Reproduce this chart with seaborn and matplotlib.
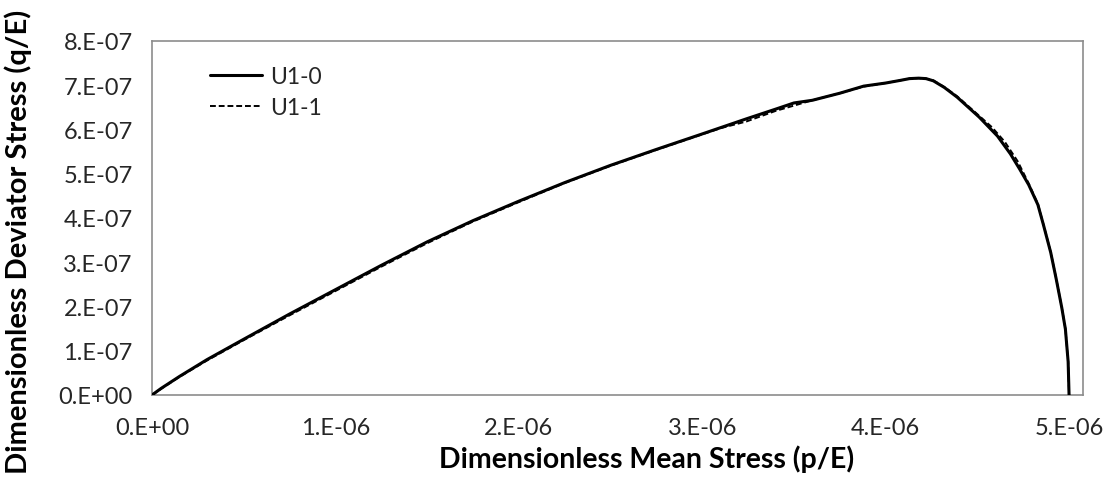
import matplotlib
matplotlib.use("Agg")
import matplotlib.pyplot as plt
import seaborn as sns
import pandas as pd

# Stress path of two runs: mean stress p/E (x, in 1e-6) against deviator stress q/E (y, in 1e-7)
u10_p = [0.0, 0.05, 0.15, 0.30, 0.50, 0.75, 1.00, 1.25, 1.50, 1.75, 2.00, 2.25, 2.50,
         2.75, 3.00, 3.24, 3.40, 3.50, 3.60, 3.75, 3.88, 4.00, 4.08, 4.13, 4.18, 4.22,
         4.26, 4.32, 4.39, 4.51, 4.61, 4.68, 4.73, 4.78, 4.83, 4.86, 4.90, 4.93, 4.96,
         4.98, 4.995, 5.00]
u10_q = [0.0, 0.15, 0.42, 0.80, 1.26, 1.83, 2.38, 2.93, 3.46, 3.94, 4.38, 4.80, 5.19,
         5.55, 5.90, 6.24, 6.46, 6.60, 6.66, 6.82, 6.98, 7.05, 7.11, 7.15, 7.16, 7.15,
         7.10, 6.95, 6.73, 6.28, 5.85, 5.45, 5.11, 4.75, 4.30, 3.85, 3.22, 2.62, 1.98,
         1.49, 0.75, 0.0]

u11_p = [0.0, 0.05, 0.15, 0.30, 0.50, 0.75, 1.00, 1.25, 1.50, 1.75, 2.00, 2.25, 2.50,
         2.75, 3.00, 3.10, 3.24, 3.40, 3.60, 3.75, 3.88, 4.00, 4.08, 4.13, 4.18, 4.22,
         4.26, 4.32, 4.39, 4.51, 4.58, 4.65, 4.72, 4.78, 4.83, 4.86, 4.90, 4.93, 4.96,
         4.98, 4.995, 5.00]
u11_q = [0.0, 0.14, 0.41, 0.78, 1.24, 1.80, 2.35, 2.90, 3.43, 3.92, 4.36, 4.79, 5.18,
         5.54, 5.89, 6.03, 6.18, 6.42, 6.66, 6.82, 6.97, 7.05, 7.11, 7.15, 7.16, 7.15,
         7.11, 6.96, 6.75, 6.31, 6.05, 5.72, 5.28, 4.78, 4.32, 3.86, 3.23, 2.63, 1.99,
         1.50, 0.76, 0.0]

series_names = ["U1-0", "U1-1"]
x_ticks = [0.0, 1e-6, 2e-6, 3e-6, 4e-6, 5e-6]
x_tick_labels = ["0.E+00", "1.E-06", "2.E-06", "3.E-06", "4.E-06", "5.E-06"]
y_ticks = [0.0, 1e-7, 2e-7, 3e-7, 4e-7, 5e-7, 6e-7, 7e-7, 8e-7]
y_tick_labels = ["0.E+00", "1.E-07", "2.E-07", "3.E-07", "4.E-07",
                 "5.E-07", "6.E-07", "7.E-07", "8.E-07"]

df = pd.concat([
    pd.DataFrame({"p": [v * 1e-6 for v in u10_p], "q": [v * 1e-7 for v in u10_q],
                  "run": series_names[0]}),
    pd.DataFrame({"p": [v * 1e-6 for v in u11_p], "q": [v * 1e-7 for v in u11_q],
                  "run": series_names[1]}),
], ignore_index=True)

sns.set_theme(style="white")
plt.rcParams["font.family"] = ["Lato", "DejaVu Sans"]

fig = plt.figure(figsize=(11.2, 4.85), dpi=100)
ax = fig.add_axes([152 / 1120, 1 - 396 / 485, (1083 - 152) / 1120, (396 - 42) / 485])

sns.lineplot(data=df[df["run"] == series_names[0]], x="p", y="q", ax=ax,
             color="black", linewidth=2.2, sort=False, estimator=None,
             label=series_names[0], zorder=3)
sns.lineplot(data=df[df["run"] == series_names[1]], x="p", y="q", ax=ax,
             color="black", linewidth=1.4, linestyle=(0, (3, 1.5)), sort=False,
             estimator=None, label=series_names[1], zorder=4)

ax.set_xlim(0, 5.076e-6)
ax.set_ylim(0, 8e-7)
ax.set_xticks(x_ticks)
ax.set_xticklabels(x_tick_labels)
ax.set_yticks(y_ticks)
ax.set_yticklabels(y_tick_labels)

for side in ["left", "bottom", "top", "right"]:
    ax.spines[side].set_visible(True)
    ax.spines[side].set_color("#8c8c8c")
    ax.spines[side].set_linewidth(1.2)

ax.tick_params(axis="both", which="major", direction="out", length=6, width=1.1,
               color="#8c8c8c", labelsize=17, labelcolor="#262626")
ax.tick_params(axis="x", pad=10)
ax.tick_params(axis="y", pad=8)

ax.set_xlabel("")
ax.set_ylabel("")
fig.text(647 / 1120, 1 - 459 / 485, "Dimensionless Mean Stress (p/E)",
         ha="center", va="center", fontsize=20.5, fontweight="bold", color="black")
fig.text(18 / 1120, 1 - 242 / 485, "Dimensionless Deviator Stress (q/E)",
         ha="center", va="center", rotation=90, fontsize=21, fontweight="bold",
         color="black")

leg = ax.legend(loc="upper left", bbox_to_anchor=(0.052, 0.955), frameon=False,
                fontsize=16.5, handlelength=2.3, handletextpad=0.35, labelspacing=0.45,
                borderaxespad=0)
for t in leg.get_texts():
    t.set_color("#262626")

fig.savefig("out.png", dpi=100)
